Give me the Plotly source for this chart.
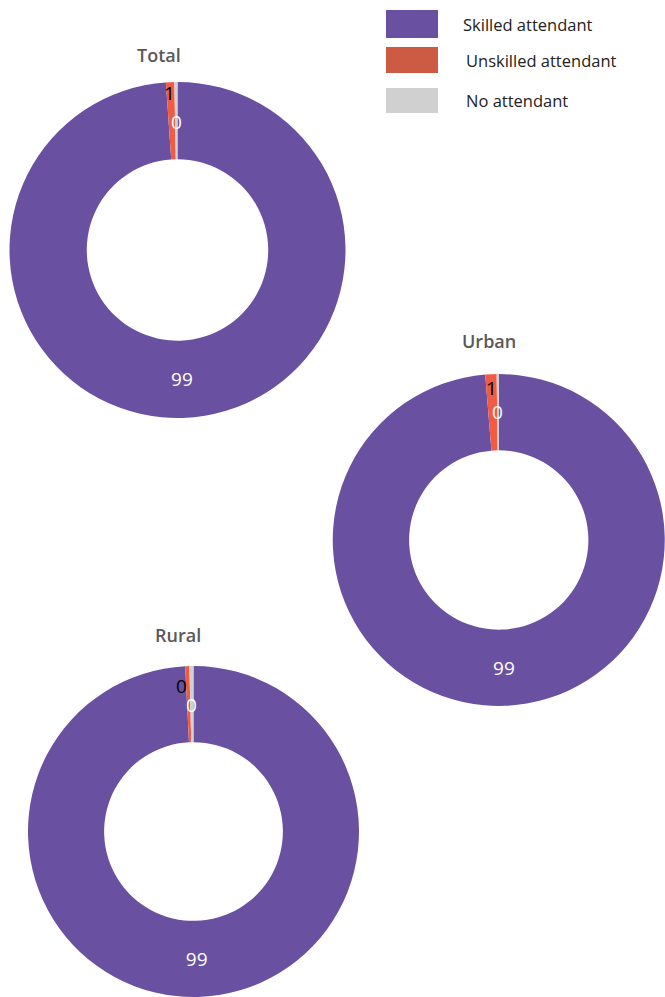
import math
import plotly.graph_objects as go

labels = ['Skilled attendant', 'Unskilled attendant', 'No attendant']
colors = ['#6950a1', '#f15b44', '#d1d0d0']
legend_colors = ['#6950a1', '#cd5a42', '#d1d0d0']
text_colors = ['white', 'black', 'white']

total_vals = [98.9, 0.8, 0.3]
urban_vals = [98.7, 1.1, 0.2]
rural_vals = [99.2, 0.4, 0.4]

W, H = 665, 997
FONT = 'Open Sans, Arial, sans-serif'

# pie boxes in pixels: left, right, top, bottom ; title position ; label radii / x shifts for thin slices
pies = [
    ('Total', total_vals, (9, 346, 82, 418), (159, 55), [None, 157, 128], [0, -1, 0]),
    ('Urban', urban_vals, (332.5, 665, 374, 706), (489, 341), [None, 152, 128], [0, 0, 0]),
    ('Rural', rural_vals, (27, 360, 666, 997), (178, 635), [None, 146, 127], [0, -6, 0]),
]

fig = go.Figure()
annotations = []
for name, vals, (l, r, t, b), (tx, ty), radii, shifts in pies:
    fig.add_trace(go.Pie(
        labels=labels, values=vals, name=name,
        domain=dict(x=[l / W, r / W], y=[1 - b / H, 1 - t / H]),
        hole=0.54, sort=False, direction='clockwise', rotation=0,
        marker=dict(colors=colors, line=dict(width=0)),
        texttemplate=['%{value:.0f}', '', ''],
        textposition='inside', insidetextorientation='horizontal',
        insidetextfont=dict(color=text_colors, size=19, family=FONT),
        showlegend=False,
    ))
    annotations.append(dict(
        text=name, x=tx / W, y=1 - ty / H, xref='paper', yref='paper',
        showarrow=False, xanchor='center', yanchor='middle',
        font=dict(size=18, color='#595959', family=FONT, weight=600)))
    # labels of the thin slices, placed at the slice's mid angle
    cx, cy = (l + r) / 2, (t + b) / 2
    tot = sum(vals)
    start = 0.0
    for v, rad, col, sh in zip(vals, radii, text_colors, shifts):
        mid = (start + v / 2) / tot * 360
        start += v
        if rad is None:
            continue
        ang = math.radians(mid)
        x = cx + rad * math.sin(ang)
        y = cy - rad * math.cos(ang)
        annotations.append(dict(
            text=f'{v:.0f}', x=x / W, y=1 - y / H, xref='paper', yref='paper',
            xshift=sh, showarrow=False, xanchor='center', yanchor='middle',
            font=dict(size=19, color=col, family=FONT)))

shapes = []
sw_y = [(10, 38), (47, 73), (88, 113)]
txt_x = [461, 464, 464]
for lab, col, (y0, y1), tx in zip(labels, legend_colors, sw_y, txt_x):
    shapes.append(dict(type='rect', xref='paper', yref='paper',
                       x0=386 / W, x1=438 / W, y0=1 - y1 / H, y1=1 - y0 / H,
                       fillcolor=col, line=dict(width=0)))
    annotations.append(dict(
        text=lab, x=tx / W, y=1 - (y0 + y1) / 2 / H, xref='paper', yref='paper',
        showarrow=False, xanchor='left', yanchor='middle',
        font=dict(size=16.5, color='#222222', family=FONT)))

fig.update_layout(
    width=W, height=H, margin=dict(l=0, r=0, t=0, b=0),
    paper_bgcolor='white', plot_bgcolor='white',
    font=dict(family=FONT),
    annotations=annotations, shapes=shapes,
)

fig.write_html('out.html', config={'displayModeBar': False},
               post_script="document.body.style.margin='0';")
